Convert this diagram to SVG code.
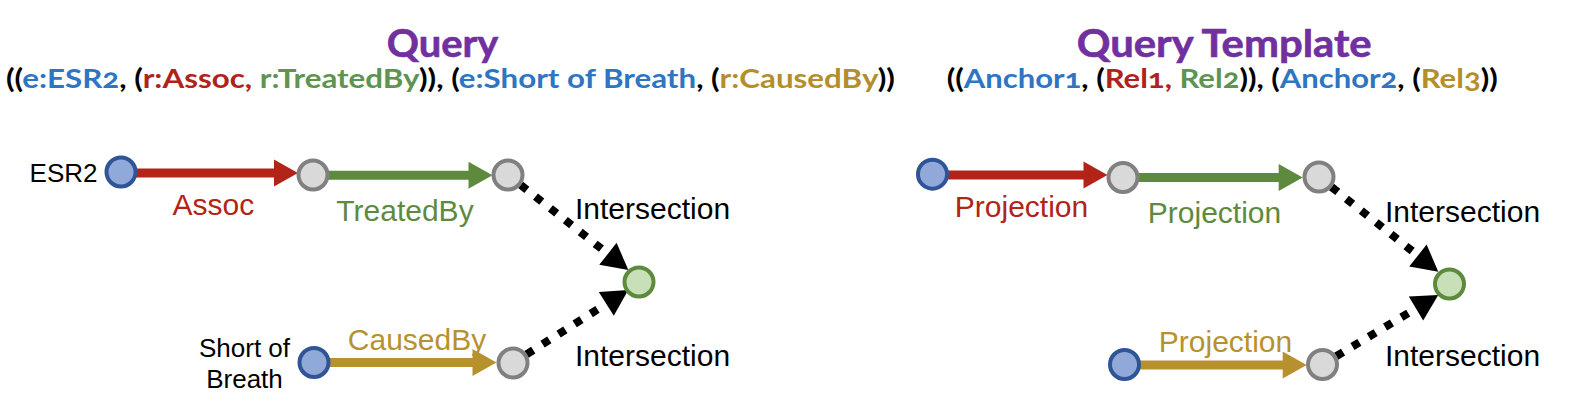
<svg xmlns="http://www.w3.org/2000/svg" width="1584" height="416" viewBox="0 0 1584 416">
<style>
.title{font-family:Lato,"Open Sans","Noto Sans",sans-serif;font-weight:700;font-size:38px;fill:#7030A0;stroke:#7030A0;stroke-width:0.6}
.formula{font-family:Lato,"Noto Sans","Open Sans",sans-serif;font-weight:700;font-size:26.5px;fill:#000;font-variant-numeric:oldstyle-nums;font-feature-settings:"onum" 1}
.fb{fill:#2E75C2}.fr{fill:#B0231A}.fg{fill:#5E9450}.fo{fill:#B58E2C}
.lbl{font-family:"Liberation Sans",Arial,sans-serif;font-size:30px}
.nl{font-family:"Liberation Sans",Arial,sans-serif;font-size:26px;fill:#000}
.red{fill:#B22418}.green{fill:#5E8A3E}.gold{fill:#B8912F}.blk{fill:#000}
.e-red{stroke:#B22418;stroke-width:9;fill:none}
.e-green{stroke:#5E8A3E;stroke-width:9;fill:none}
.e-gold{stroke:#B8912F;stroke-width:9;fill:none}
.e-dot{stroke:#000;stroke-width:8;stroke-dasharray:8 11;fill:none}
.n-blue{fill:#91A9D8;stroke:#2F5597;stroke-width:4}
.n-gray{fill:#D9D9D9;stroke:#808080;stroke-width:4}
.n-green{fill:#C9DFB8;stroke:#5E8A3E;stroke-width:4}
</style>
<defs>
<marker id="ah-red" markerUnits="userSpaceOnUse" markerWidth="26" markerHeight="28" viewBox="0 0 26 28" refX="2" refY="13.5" orient="auto" overflow="visible"><path d="M0,0 L24,13.5 L0,27 Z" fill="#B22418"/></marker>
<marker id="ah-green" markerUnits="userSpaceOnUse" markerWidth="26" markerHeight="28" viewBox="0 0 26 28" refX="2" refY="13.5" orient="auto" overflow="visible"><path d="M0,0 L24,13.5 L0,27 Z" fill="#5E8A3E"/></marker>
<marker id="ah-gold" markerUnits="userSpaceOnUse" markerWidth="26" markerHeight="28" viewBox="0 0 26 28" refX="2" refY="13.5" orient="auto" overflow="visible"><path d="M0,0 L24,13.5 L0,27 Z" fill="#B8912F"/></marker>
<marker id="ah-blk" markerUnits="userSpaceOnUse" markerWidth="28" markerHeight="30" viewBox="0 0 28 30" refX="2" refY="14" orient="auto" overflow="visible"><path d="M0,0 L26,14 L0,28 Z" fill="#000"/></marker>
</defs>

<g id="headers">
<text class="title" x="386.7" y="56.7" textLength="111.7" lengthAdjust="spacingAndGlyphs">Query</text>
<text class="formula" x="6" y="88.3" textLength="889" lengthAdjust="spacingAndGlyphs">((<tspan class="fb">e:ESR2</tspan>, (<tspan class="fr">r:Assoc,</tspan> <tspan class="fg">r:TreatedBy</tspan>)), (<tspan class="fb">e:Short of Breath</tspan>, (<tspan class="fo">r:CausedBy</tspan>))</text>
<text class="title" x="1076.7" y="56.7" textLength="295" lengthAdjust="spacingAndGlyphs">Query Template</text>
<text class="formula" x="946.7" y="88.3" textLength="551" lengthAdjust="spacingAndGlyphs">((<tspan class="fb">Anchor1</tspan>, (<tspan class="fr">Rel1,</tspan> <tspan class="fg">Rel2</tspan>)), (<tspan class="fb">Anchor2</tspan>, (<tspan class="fo">Rel3</tspan>))</text>
</g>

<g id="connectors">
<path class="e-red" d="M121,173 L276,173" marker-end="url(#ah-red)"/>
<path class="e-green" d="M313,175.3 L470.5,175.3" marker-end="url(#ah-green)"/>
<path class="e-gold" d="M314,362.5 L474.5,362.5" marker-end="url(#ah-gold)"/>
<path class="e-dot" d="M520.6,184.9 L609.5,255.1" marker-end="url(#ah-blk)"/>
<path class="e-dot" d="M526.5,354.4 L608,302.8" marker-end="url(#ah-blk)"/>
<path class="e-red" d="M932.5,175 L1085.5,175" marker-end="url(#ah-red)"/>
<path class="e-green" d="M1123,177.5 L1280.7,177.5" marker-end="url(#ah-green)"/>
<path class="e-gold" d="M1124.5,365 L1284.7,365" marker-end="url(#ah-gold)"/>
<path class="e-dot" d="M1331.5,187 L1419.5,256.8" marker-end="url(#ah-blk)"/>
<path class="e-dot" d="M1336.2,356.3 L1417.7,307.4" marker-end="url(#ah-blk)"/>
</g>

<g id="edge-labels">
<text class="lbl red" x="213.3" y="215" text-anchor="middle">Assoc</text>
<text class="lbl green" x="405" y="221" text-anchor="middle">TreatedBy</text>
<text class="lbl blk" x="575" y="219">Intersection</text>
<text class="lbl gold" x="417" y="350" text-anchor="middle">CausedBy</text>
<text class="lbl blk" x="575" y="366">Intersection</text>
<text class="lbl red" x="1021.5" y="217" text-anchor="middle">Projection</text>
<text class="lbl green" x="1214.5" y="222.5" text-anchor="middle">Projection</text>
<text class="lbl blk" x="1385" y="221.5">Intersection</text>
<text class="lbl gold" x="1225.5" y="351.5" text-anchor="middle">Projection</text>
<text class="lbl blk" x="1385" y="366">Intersection</text>
</g>

<g id="node-esr2"><circle class="n-blue" cx="121" cy="172" r="14.5"/><text class="nl" x="97.5" y="182" text-anchor="end">ESR2</text></g>
<g id="node-q-assoc"><circle class="n-gray" cx="313" cy="175" r="14.5"/></g>
<g id="node-q-treated"><circle class="n-gray" cx="508" cy="175" r="14.5"/></g>
<g id="node-q-intersection"><circle class="n-green" cx="639" cy="282" r="14.5"/></g>
<g id="node-sob"><circle class="n-blue" cx="314" cy="362.5" r="14.5"/><text class="nl" x="244.5" y="357.3" text-anchor="middle">Short of</text><text class="nl" x="244.5" y="388.3" text-anchor="middle">Breath</text></g>
<g id="node-q-caused"><circle class="n-gray" cx="513" cy="363" r="14.5"/></g>

<g id="node-anchor1"><circle class="n-blue" cx="932.5" cy="174.2" r="14.5"/></g>
<g id="node-t-rel1"><circle class="n-gray" cx="1123" cy="177.5" r="14.5"/></g>
<g id="node-t-rel2"><circle class="n-gray" cx="1319" cy="177" r="14.5"/></g>
<g id="node-t-intersection"><circle class="n-green" cx="1449.5" cy="284" r="14.5"/></g>
<g id="node-anchor2"><circle class="n-blue" cx="1124.5" cy="364.5" r="14.5"/></g>
<g id="node-t-rel3"><circle class="n-gray" cx="1322.5" cy="364.5" r="14.5"/></g>
</svg>
